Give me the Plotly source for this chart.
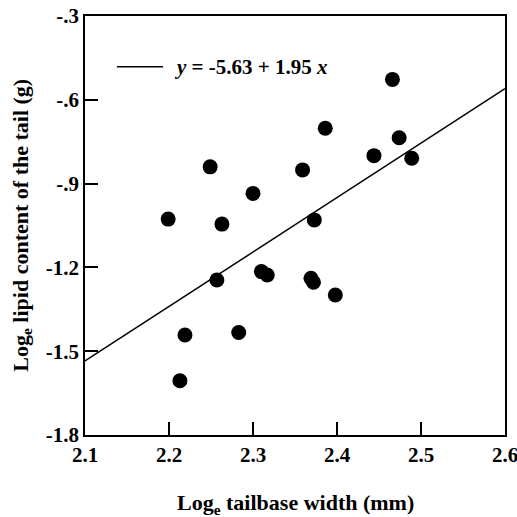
import plotly.graph_objects as go

# Data
tail_width = [2.249, 2.300, 2.199, 2.263, 2.466, 2.386, 2.474, 2.444, 2.489, 2.359,
              2.373, 2.257, 2.219, 2.283, 2.213, 2.310, 2.317, 2.369, 2.372, 2.398]
lipid = [-0.840, -0.935, -1.027, -1.045, -0.527, -0.702, -0.736, -0.800, -0.809, -0.851,
         -1.030, -1.245, -1.442, -1.433, -1.606, -1.215, -1.227, -1.239, -1.253, -1.299]

intercept = -5.63
slope = 1.95
fit_x = [2.1, 2.6]
fit_y = [intercept + slope * v for v in fit_x]

x_ticks = [2.1, 2.2, 2.3, 2.4, 2.5, 2.6]
x_ticktext = ["2.1", "2.2", "2.3", "2.4", "2.5", "2.6"]
y_ticks = [-0.3, -0.6, -0.9, -1.2, -1.5, -1.8]
y_ticktext = ["-.3", "-.6", "-.9", "-1.2", "-1.5", "-1.8"]

equation = "<b><i>y</i> = -5.63 + 1.95 <i>x</i></b>"
x_title = "<b>Log<sub>e</sub> tailbase width (mm)</b>"
y_title = "<b>Log<sub>e</sub> lipid content of the tail (g)</b>"

FONT = "Liberation Serif"

fig = go.Figure()
fig.add_trace(go.Scatter(
    x=fit_x, y=fit_y, mode="lines",
    line=dict(color="black", width=1.5),
    showlegend=False,
))
fig.add_trace(go.Scatter(
    x=tail_width, y=lipid, mode="markers",
    marker=dict(color="black", size=15, line=dict(width=0)),
    showlegend=False,
))

# legend key (line sample + equation text)
fig.add_shape(type="line", xref="paper", yref="paper",
              x0=0.076, x1=0.186, y0=0.879, y1=0.879,
              line=dict(color="black", width=1.5))
fig.add_annotation(xref="paper", yref="paper", x=0.207, y=0.879,
                   xanchor="left", yanchor="middle", showarrow=False,
                   text=equation, font=dict(size=21, family=FONT))

# axis titles
fig.add_annotation(xref="paper", yref="paper", x=0.5, y=-0.164,
                   xanchor="center", yanchor="middle", showarrow=False,
                   text=x_title, font=dict(size=22, family=FONT))
fig.add_annotation(xref="paper", yref="paper", x=-0.152, y=0.5,
                   xanchor="center", yanchor="middle", showarrow=False,
                   textangle=-90,
                   text=y_title, font=dict(size=22, family=FONT))

fig.update_layout(
    width=517, height=517,
    margin=dict(l=85, r=12, t=16, b=82),
    paper_bgcolor="white", plot_bgcolor="white",
    font=dict(family=FONT, color="black", size=20, weight="bold"),
    xaxis=dict(
        range=[2.1, 2.6], tickvals=x_ticks, ticktext=x_ticktext,
        ticks="inside", ticklen=13, tickwidth=1.5, tickcolor="black",
        showline=True, linecolor="black", linewidth=1.5, mirror=True,
        showgrid=False, zeroline=False, automargin=False,
        ticklabeloverflow="allow",
        tickfont=dict(size=21, family=FONT, weight="bold"),
    ),
    yaxis=dict(
        range=[-1.8, -0.3], tickvals=y_ticks, ticktext=y_ticktext,
        ticks="inside", ticklen=13, tickwidth=1.5, tickcolor="black",
        showline=True, linecolor="black", linewidth=1.5, mirror=True,
        showgrid=False, zeroline=False, automargin=False,
        ticklabeloverflow="allow",
        tickfont=dict(size=21, family=FONT, weight="bold"),
    ),
)

fig.write_html("out.html", config={"displayModeBar": False},
               post_script="document.body.style.margin='0';document.body.style.overflow='hidden';")
